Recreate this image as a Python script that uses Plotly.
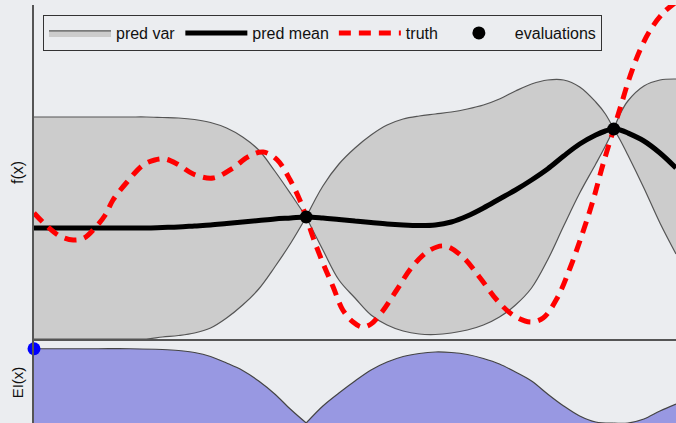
import plotly.graph_objects as go

# ---------------- data ----------------
x_band = [0, 0.025, 0.05, 0.075, 0.1, 0.125, 0.15, 0.175, 0.2, 0.225, 0.25, 0.275, 0.3, 0.325,
          0.35, 0.375, 0.4, 0.424, 0.45, 0.475, 0.5, 0.525, 0.55, 0.575, 0.6, 0.625, 0.65,
          0.675, 0.7, 0.725, 0.75, 0.775, 0.8, 0.825, 0.85, 0.875, 0.89, 0.903, 0.913, 0.925,
          0.95, 0.975, 1.0]
band_upper = [2.22, 2.22, 2.22, 2.22, 2.22, 2.22, 2.22, 2.22, 2.21, 2.20, 2.17, 2.11, 2.00, 1.82,
              1.56, 1.14, 0.68, 0.22, 0.84, 1.28, 1.60, 1.86, 2.06, 2.18, 2.24, 2.28, 2.32,
              2.38, 2.46, 2.58, 2.74, 2.88, 2.96, 2.96, 2.82, 2.52, 2.28, 1.98, 2.28, 2.54,
              2.84, 2.96, 2.98]
band_lower = [-2.22, -2.22, -2.22, -2.22, -2.22, -2.22, -2.22, -2.22, -2.18, -2.15, -2.10, -2.00, -1.80, -1.54,
              -1.22, -0.78, -0.30, 0.22, -0.44, -1.04, -1.40, -1.74, -1.94, -2.06, -2.12, -2.13, -2.10,
              -2.04, -1.94, -1.78, -1.54, -1.20, -0.64, 0.04, 0.70, 1.28, 1.64, 1.98, 1.76, 1.46,
              0.80, 0.10, -0.52]
pred_mean = [0.0, 0.0, 0.0, 0.0, 0.0, 0.0, 0.0, 0.0, 0.01, 0.02, 0.04, 0.06, 0.09, 0.12,
             0.15, 0.18, 0.20, 0.22, 0.20, 0.17, 0.14, 0.11, 0.08, 0.06, 0.05, 0.06, 0.12,
             0.24, 0.40, 0.58, 0.76, 0.96, 1.18, 1.44, 1.68, 1.86, 1.94, 1.98, 1.96, 1.90,
             1.74, 1.50, 1.20]

x_truth = [0.000, 0.020, 0.040, 0.061, 0.078, 0.095, 0.111, 0.123, 0.145, 0.170, 0.188, 0.204,
           0.223, 0.248, 0.279, 0.310, 0.333, 0.357, 0.379, 0.399, 0.414, 0.424, 0.435, 0.450,
           0.466, 0.481, 0.497, 0.511, 0.525, 0.542, 0.565, 0.590, 0.617, 0.640, 0.668, 0.695,
           0.721, 0.746, 0.773, 0.793, 0.815, 0.835, 0.855, 0.871, 0.886, 0.903, 0.913, 0.928,
           0.944, 0.960, 0.980, 1.000]
truth = [0.30, 0.04, -0.16, -0.24, -0.20, 0.00, 0.26, 0.56, 0.92, 1.26, 1.36, 1.38,
         1.28, 1.08, 1.00, 1.20, 1.42, 1.52, 1.36, 0.96, 0.56, 0.22, -0.20, -0.70,
         -1.18, -1.64, -1.88, -1.98, -1.92, -1.68, -1.24, -0.76, -0.44, -0.36, -0.58, -1.00,
         -1.44, -1.74, -1.88, -1.80, -1.40, -0.80, -0.08, 0.56, 1.26, 1.98, 2.40, 3.02,
         3.56, 3.96, 4.30, 4.52]

x_eval = [0.424, 0.903]
y_eval = [0.22, 1.98]

x_ei = [0, 0.05, 0.1, 0.15, 0.2, 0.225, 0.25, 0.275, 0.3, 0.325, 0.35, 0.375, 0.4, 0.424,
        0.45, 0.475, 0.5, 0.525, 0.55, 0.575, 0.6, 0.625, 0.65, 0.675, 0.7, 0.725, 0.75,
        0.775, 0.8, 0.825, 0.85, 0.875, 0.903, 0.925, 0.95, 0.975, 1.0]
ei = [0.99, 0.99, 0.99, 0.99, 0.98, 0.967, 0.94, 0.887, 0.80, 0.70, 0.56, 0.387, 0.18, 0.0,
      0.227, 0.40, 0.56, 0.707, 0.813, 0.887, 0.927, 0.947, 0.94, 0.913, 0.86, 0.787, 0.68,
      0.56, 0.387, 0.227, 0.093, 0.013, 0.0, 0.0, 0.053, 0.16, 0.253]

x_next = [0.0]
ei_next = [0.99]

# ---------------- figure ----------------
BG = "#ebedf0"
AX = "#555555"
SM = 1.0


def segments(xs, *series):
    """Split the series at the evaluation points so the cusps stay sharp."""
    cuts = [0] + [xs.index(v) for v in x_eval] + [len(xs) - 1]
    out = []
    for a, b in zip(cuts[:-1], cuts[1:]):
        out.append([xs[a:b + 1]] + [s[a:b + 1] for s in series])
    return out


fig = go.Figure()

for k, (xs, lo, up) in enumerate(segments(x_band, band_lower, band_upper)):
    fig.add_trace(go.Scatter(x=xs, y=lo, mode="lines", showlegend=False, legendgroup="var",
                             line=dict(color=AX, width=1.2, shape="spline", smoothing=SM),
                             hoverinfo="skip", xaxis="x", yaxis="y"))
    fig.add_trace(go.Scatter(x=xs, y=up, mode="lines", name="pred var", legendgroup="var",
                             showlegend=(k == 0), fill="tonexty", fillcolor="#cccccc",
                             line=dict(color=AX, width=1.2, shape="spline", smoothing=SM),
                             xaxis="x", yaxis="y"))

fig.add_trace(go.Scatter(x=x_band, y=pred_mean, mode="lines", name="pred mean",
                         line=dict(color="black", width=5, shape="spline", smoothing=SM),
                         xaxis="x", yaxis="y"))
fig.add_trace(go.Scatter(x=x_truth, y=truth, mode="lines", name="truth",
                         line=dict(color="#ff0000", width=5, dash="12px,8px",
                                   shape="spline", smoothing=SM),
                         xaxis="x", yaxis="y"))
fig.add_trace(go.Scatter(x=x_eval, y=y_eval, mode="markers", name="evaluations",
                         marker=dict(color="black", size=13),
                         xaxis="x", yaxis="y"))

for xs, vals in segments(x_ei, ei):
    fig.add_trace(go.Scatter(x=xs, y=vals, mode="lines", showlegend=False,
                             fill="tozeroy", fillcolor="#9898e2",
                             line=dict(color="#444444", width=1.2, shape="spline", smoothing=SM),
                             xaxis="x2", yaxis="y2"))
fig.add_trace(go.Scatter(x=x_next, y=ei_next, mode="markers", showlegend=False,
                         marker=dict(color="#0000ff", size=13), cliponaxis=False,
                         xaxis="x2", yaxis="y2"))

axis_common = dict(showgrid=False, zeroline=False, showticklabels=False, ticks="")

fig.update_layout(
    width=676, height=423,
    margin=dict(l=34, r=0, t=5, b=0, autoexpand=False),
    paper_bgcolor=BG, plot_bgcolor=BG,
    font=dict(family="Liberation Sans, Arial, sans-serif", color="#111111", size=16),
    xaxis=dict(domain=[0, 1], range=[0, 1], anchor="y", showline=True,
               linecolor=AX, linewidth=1.5, **axis_common),
    yaxis=dict(domain=[84 / 418, 1], range=[-2.22, 4.46], anchor="x", showline=True,
               linecolor=AX, linewidth=1.5, **axis_common),
    xaxis2=dict(domain=[0, 1], range=[0, 1], anchor="y2", showline=False, **axis_common),
    yaxis2=dict(domain=[0, 83 / 418], range=[0, 1.1067], anchor="x2", showline=True,
                linecolor=AX, linewidth=1.5, **axis_common),
    legend=dict(orientation="h", x=0.014, y=0.976, xanchor="left", yanchor="top",
                traceorder="normal",
                bgcolor="rgba(0,0,0,0)", bordercolor="#333333", borderwidth=1,
                font=dict(size=16), itemwidth=62),
    annotations=[
        dict(text="f(x)", xref="paper", yref="paper", x=-0.025, y=0.6005,
             textangle=-90, showarrow=False, font=dict(size=16),
             xanchor="center", yanchor="middle"),
        dict(text="EI(x)", xref="paper", yref="paper", x=-0.026, y=0.098,
             textangle=-90, showarrow=False, font=dict(size=15),
             xanchor="center", yanchor="middle"),
    ],
)

fig.write_html("out.html", config={"displayModeBar": False},
               post_script="document.body.style.margin='0';document.body.style.padding='0';"
                           "document.body.style.background='" + BG + "';")
